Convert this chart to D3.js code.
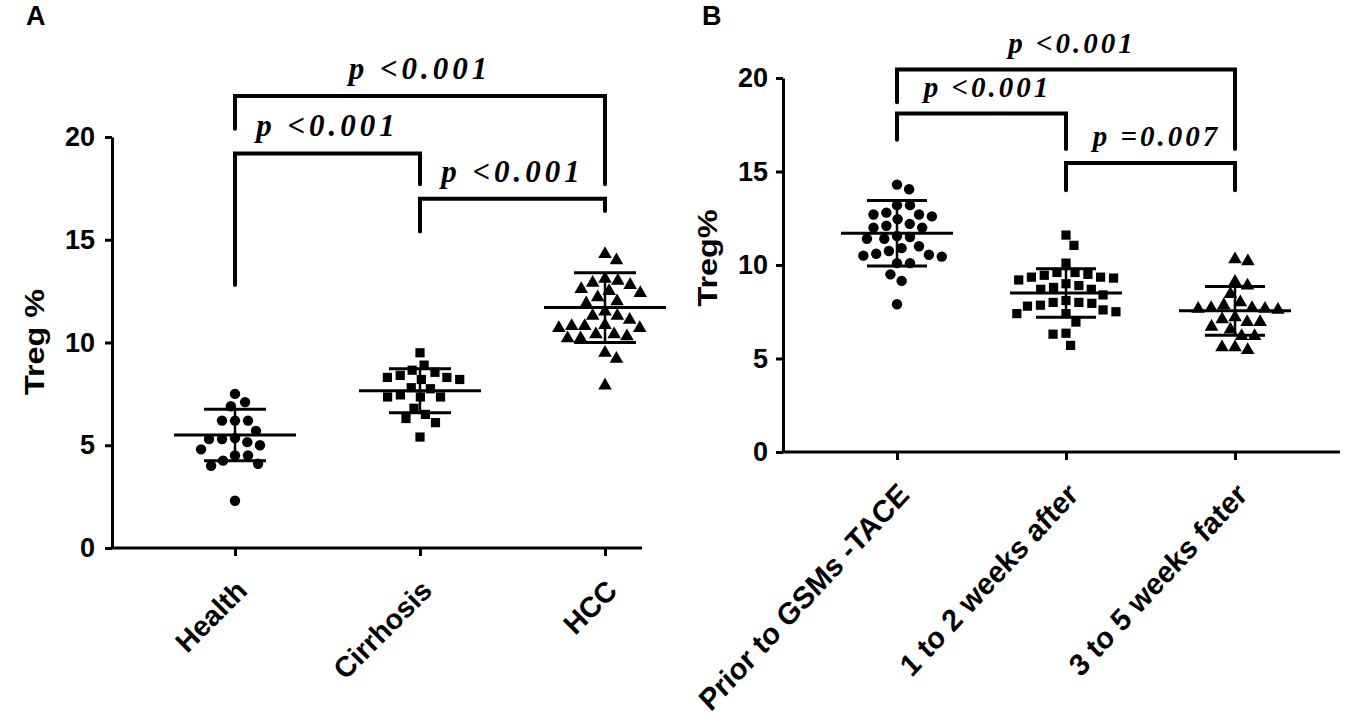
<!DOCTYPE html>
<html>
<head>
<meta charset="utf-8">
<script src="https://cdn.jsdelivr.net/npm/d3@7"></script>
<style>
  body { margin: 0; background: #fff; }
  svg { display: block; }
  .tick text { font-family: "Liberation Sans", Arial, sans-serif; font-weight: bold; font-size: 27px; fill: #000; }
  .xcat .tick text { font-size: 28.5px; }
  .ptext { font-family: "Liberation Serif", "Times New Roman", serif; font-weight: bold; font-style: italic; }
  .ylabel, .panel { font-family: "Liberation Sans", Arial, sans-serif; font-weight: bold; fill: #000; }
</style>
</head>
<body>
<svg id="chart" width="1359" height="724"></svg>
<script>
// ---- panel A data ----
var panelACategories = ['Health', 'Cirrhosis', 'HCC'];
var healthValues = [7.5, 6.9, 7.1, 6.2, 6.2, 6.2, 5.7, 5.3, 5.15, 5.0, 5.3, 5.35, 4.8, 4.5, 4.25, 4.0, 4.5, 4.1, 2.3];
var cirrhosisValues = [9.5, 8.9, 8.65, 8.55, 8.3, 8.3, 8.2, 8.2, 8.4, 7.75, 7.8, 7.35, 7.35, 7.35, 7.45, 6.8, 6.3, 6.1, 6.5, 5.4];
var hccValues = [14.0, 14.3, 13.0, 12.8, 12.5, 12.6, 12.9, 13.1, 12.2, 12.0, 11.9, 12.4, 11.5, 11.3, 11.3, 11.1,
  10.85, 10.7, 10.7, 10.8, 10.8, 10.4, 10.2, 10.2, 10.3, 10.4, 9.5, 9.2, 7.9];
var panelAMeans = [5.5, 7.65, 11.7];
var panelASD = [1.25, 1.07, 1.7];
var panelATicks = [0, 5, 10, 15, 20];
var panelAComparisons = [
  { from: 'Health', to: 'HCC', level: 22.0, fromEnd: 20.4, toEnd: 17.7, label: 'p <0.001' },
  { from: 'Health', to: 'Cirrhosis', level: 19.2, fromEnd: 12.8, toEnd: 17.7, label: 'p <0.001' },
  { from: 'Cirrhosis', to: 'HCC', level: 17.0, fromEnd: 15.4, toEnd: 16.4, label: 'p <0.001' }
];

// ---- panel B data ----
var panelBCategories = ['Prior to GSMs -TACE', '1 to 2 weeks after', '3 to 5 weeks fater'];
var priorValues = [14.05, 14.3, 13.2, 13.2, 12.7, 12.6, 12.7, 12.8, 12.45, 12.2, 12.0, 12.1, 12.0, 11.55, 11.4,
  11.5, 11.4, 11.0, 10.9, 10.6, 10.5, 10.55, 10.45, 10.75, 10.1, 10.1, 9.5, 9.15, 7.9];
var weeks12Values = [11.6, 11.05, 10.1, 9.6, 9.5, 9.35, 9.3, 9.2, 9.35, 9.45, 9.6, 9.0, 8.7, 8.8, 8.7, 8.9, 8.4,
  8.0, 7.95, 7.8, 7.85, 8.1, 8.0, 7.4, 7.6, 7.4, 7.5, 6.95, 6.35, 6.3, 5.7];
var weeks35Values = [10.2, 10.3, 8.9, 9.1, 8.45, 8.0, 7.85, 7.6, 7.7, 7.7, 7.65, 7.65, 6.95, 7.1, 6.95, 7.2,
  6.7, 6.55, 6.2, 6.2, 5.6, 5.45, 5.6];
var panelBMeans = [11.7, 8.5, 7.55];
var panelBSD = [1.75, 1.3, 1.3];
var panelBTicks = [0, 5, 10, 15, 20];
var panelBComparisons = [
  { from: 'Prior to GSMs -TACE', to: '3 to 5 weeks fater', level: 20.45, fromEnd: 18.7, toEnd: 16.2, label: 'p <0.001' },
  { from: 'Prior to GSMs -TACE', to: '1 to 2 weeks after', level: 18.1, fromEnd: 16.7, toEnd: 16.2, label: 'p <0.001' },
  { from: '1 to 2 weeks after', to: '3 to 5 weeks fater', level: 15.45, fromEnd: 14.0, toEnd: 14.0, label: 'p =0.007' }
];

var symbols = [d3.symbolCircle, d3.symbolSquare, d3.symbolTriangle];
var symbolSizes = [85, 85, 80];

var svg = d3.select('#chart');

// simple beeswarm: place each point at the smallest offset that does not collide
var swarm = function (values, y, diameter) {
  var pts = values.map(function (v) { return { v: v, y: y(v), dx: 0 }; })
      .sort(function (a, b) { return d3.descending(a.v, b.v); });
  var placed = [];
  pts.forEach(function (p) {
    var near = placed.filter(function (q) { return Math.abs(q.y - p.y) < diameter; });
    var cands = [0];
    near.forEach(function (q) {
      var w = Math.sqrt(diameter * diameter - (q.y - p.y) * (q.y - p.y));
      cands.push(q.dx + w, q.dx - w);
    });
    cands.sort(function (a, b) { return Math.abs(a) - Math.abs(b); });
    for (var i = 0; i < cands.length; i++) {
      var c = cands[i];
      var ok = near.every(function (q) {
        return Math.hypot(q.dx - c, q.y - p.y) >= diameter - 0.01;
      });
      if (ok) { p.dx = c; break; }
    }
    placed.push(p);
  });
  return pts;
};

var drawPanel = function (cfg) {
  var g = svg.append('g').attr('transform', 'translate(' + cfg.left + ',' + cfg.top + ')');
  var y = d3.scaleLinear().domain([0, 20]).range([cfg.height, 0]);
  var x = d3.scalePoint().domain(cfg.categories).range(cfg.xRange);

  // y axis
  var yAxis = g.append('g')
      .call(d3.axisLeft(y).tickValues(cfg.ticks).tickSize(7).tickSizeOuter(0).tickPadding(cfg.tickPad));
  yAxis.selectAll('path, line').attr('stroke', '#000').attr('stroke-width', 3);

  // x axis
  var xAxis = g.append('g').attr('class', 'xcat').attr('transform', 'translate(0,' + cfg.height + ')')
      .call(d3.axisBottom(x).tickSize(8).tickSizeOuter(0));
  xAxis.select('.domain').remove();
  xAxis.selectAll('line').attr('stroke', '#000').attr('stroke-width', 3);
  xAxis.selectAll('text')
      .attr('x', 0).attr('y', 0).attr('dy', '0.71em')
      .attr('text-anchor', 'end')
      .attr('transform', 'translate(-1,' + cfg.labelDrop + ') scale(1,' + cfg.labelStretch + ') rotate(-45)');
  g.append('line')
      .attr('x1', -1.5).attr('x2', cfg.width)
      .attr('y1', cfg.height).attr('y2', cfg.height)
      .attr('stroke', '#000').attr('stroke-width', 3);

  // points, mean and SD
  cfg.series.forEach(function (values, i) {
    var cx = x(cfg.categories[i]);
    var pts = swarm(values, y, 13);
    g.selectAll(null).data(pts).enter().append('path')
        .attr('d', d3.symbol().type(symbols[i]).size(symbolSizes[i]))
        .attr('transform', function (d) { return 'translate(' + (cx + d.dx) + ',' + d.y + ')'; })
        .attr('fill', '#000');

    var m = cfg.means[i], s = cfg.sd[i];
    g.append('line').attr('x1', cx - cfg.meanHalf).attr('x2', cx + cfg.meanHalf)
        .attr('y1', y(m)).attr('y2', y(m)).attr('stroke', '#000').attr('stroke-width', 3);
    [m + s, m - s].forEach(function (v) {
      g.append('line').attr('x1', cx - cfg.sdHalf).attr('x2', cx + cfg.sdHalf)
          .attr('y1', y(v)).attr('y2', y(v)).attr('stroke', '#000').attr('stroke-width', 3);
    });
    g.append('line').attr('x1', cx).attr('x2', cx)
        .attr('y1', y(m - s)).attr('y2', y(m + s)).attr('stroke', '#000').attr('stroke-width', 2.5);
  });

  // significance brackets
  var line = d3.line();
  cfg.comparisons.forEach(function (c) {
    var x1 = x(c.from), x2 = x(c.to);
    g.append('path')
        .attr('d', line([[x1, y(c.fromEnd)], [x1, y(c.level)], [x2, y(c.level)], [x2, y(c.toEnd)]]))
        .attr('fill', 'none').attr('stroke', '#000').attr('stroke-width', 4)
        .attr('stroke-linecap', 'round');
    g.append('text').attr('class', 'ptext')
        .attr('x', (x1 + x2) / 2 + cfg.pShift).attr('y', y(c.level) - 17)
        .attr('text-anchor', 'middle')
        .style('font-size', cfg.pSize + 'px')
        .style('letter-spacing', cfg.pSpacing + 'px')
        .text(c.label);
  });

  // y label (stretched along its length like the source figure)
  g.append('text').attr('class', 'ylabel')
      .attr('transform', 'translate(' + cfg.ylabelX + ',' + cfg.ylabelY + ') rotate(-90) scale(1.2,1)')
      .attr('text-anchor', 'middle')
      .style('font-size', '27px')
      .text(cfg.ylabel);

  svg.append('text').attr('class', 'panel')
      .attr('x', cfg.letterX).attr('y', 25)
      .style('font-size', '27px')
      .text(cfg.letter);
};

drawPanel({
  left: 112, top: 137, width: 530, height: 411,
  xRange: [123, 493],
  categories: panelACategories,
  series: [healthValues, cirrhosisValues, hccValues],
  means: panelAMeans, sd: panelASD, ticks: panelATicks, tickPad: 10,
  comparisons: panelAComparisons,
  meanHalf: 61, sdHalf: 31, labelStretch: 1, labelDrop: 30,
  pSize: 31, pSpacing: 4, pShift: 0,
  ylabel: 'Treg %', ylabelX: -68, ylabelY: 205,
  letter: 'A', letterX: 26
});

drawPanel({
  left: 783, top: 78, width: 557, height: 374,
  xRange: [114, 452],
  categories: panelBCategories,
  series: [priorValues, weeks12Values, weeks35Values],
  means: panelBMeans, sd: panelBSD, ticks: panelBTicks, tickPad: 8,
  comparisons: panelBComparisons,
  meanHalf: 56, sdHalf: 30, labelStretch: 1.08, labelDrop: 29,
  pSize: 29, pSpacing: 3, pShift: 6,
  ylabel: 'Treg%', ylabelX: -66, ylabelY: 180,
  letter: 'B', letterX: 702
});
</script>
</body>
</html>
